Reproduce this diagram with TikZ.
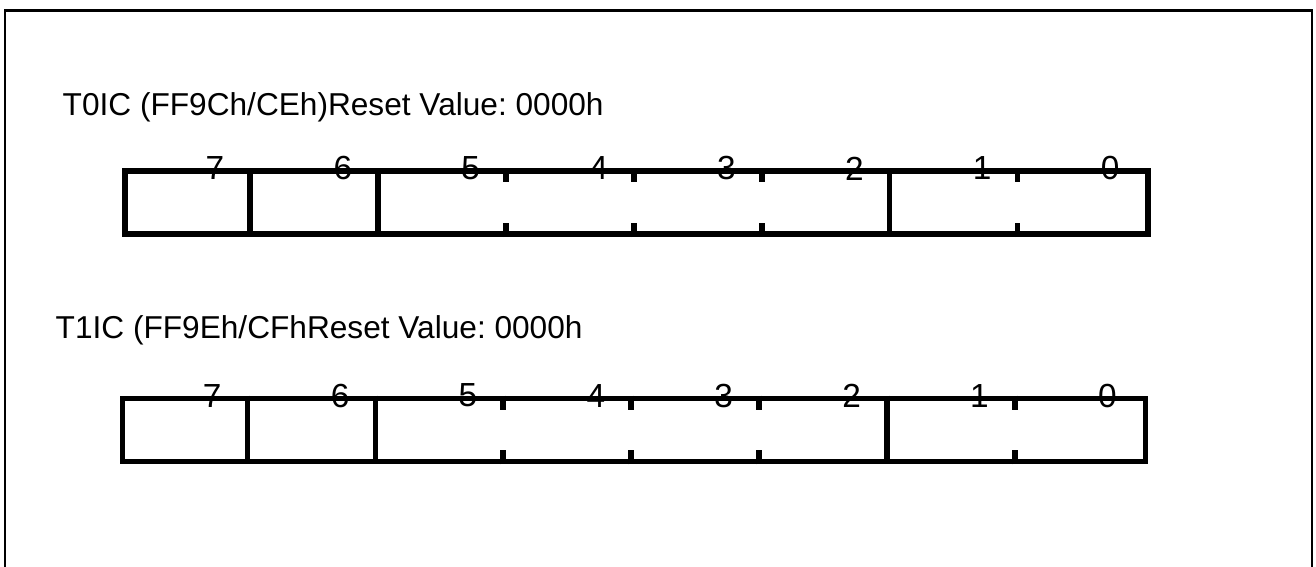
\documentclass[tikz,border=0pt]{standalone}
\usepackage{fontspec}
\setmainfont{Liberation Sans}
\usepackage{tikz}
\usetikzlibrary{positioning}
\frenchspacing

\begin{document}
\begin{tikzpicture}[
    regbox/.style={rectangle, draw, line width=1.6pt, minimum width=10.23cm, minimum height=0.63cm, inner sep=0pt},
    regline/.style={line width=1.6pt},
    bitlabel/.style={font=\fontsize{9.5pt}{11pt}\selectfont, inner sep=0pt},
    title/.style={font=\fontsize{9pt}{11pt}\selectfont, anchor=base west, inner sep=0pt}
]
\clip (0,0) rectangle (13.16,5.67);
\useasboundingbox (0,0) rectangle (13.16,5.67);

% Outer frame
\draw[line width=0.65pt] (0.05,-0.5) rectangle (13.12,5.565);

% T0IC register
\node[title] (t0title) at (0.62,4.51) {T0IC (FF9Ch/CEh)Reset Value: 0000h};
\node[regbox] (t0reg) at (6.3675,3.6425) {};

% T1IC register
\node[title] (t1title) at (0.55,2.28) {T1IC (FF9Eh/CFhReset Value: 0000h};
\node[regbox] (t1reg) at (6.34,1.37) {};

% Bit fields
\foreach \reg in {t0reg, t1reg} {
  \foreach \i in {1,2,6}
    \draw[regline] ([xshift=\i*1.2787cm]\reg.north west) -- ([xshift=\i*1.2787cm]\reg.south west);
  \foreach \i in {3,4,5,7} {
    \draw[regline] ([xshift=\i*1.2787cm]\reg.north west) -- ++(0,-0.14);
    \draw[regline] ([xshift=\i*1.2787cm]\reg.south west) -- ++(0,0.14);
  }
  \foreach \b [count=\i from 0] in {7,6,...,0}
    \node[bitlabel] (\reg-b\b) at ([xshift=\i*1.2787cm+0.925cm]\reg.north west) {\b};
}

\end{tikzpicture}
\end{document}
